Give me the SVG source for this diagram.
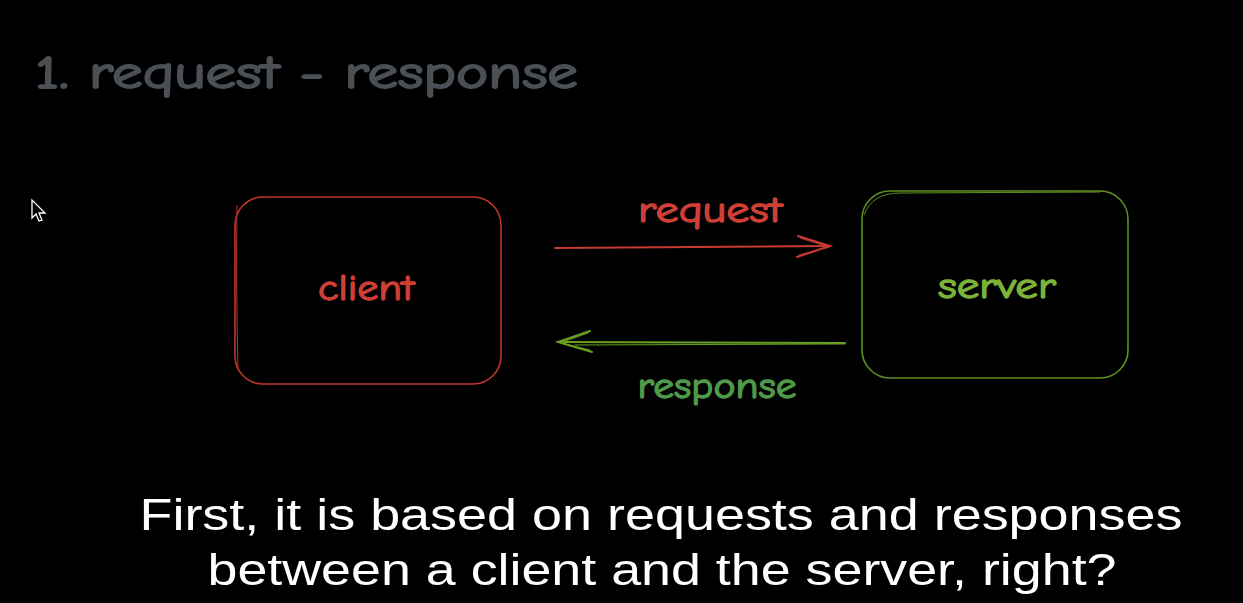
<svg xmlns="http://www.w3.org/2000/svg" width="1243" height="603" viewBox="0 0 1243 603">
<style>
.hand{font-family:"Comic Neue","Liberation Sans","DejaVu Sans",sans-serif;stroke-width:1.3;stroke-linejoin:round;}
.title{fill:#4b5056;stroke:#4b5056;font-size:46px;stroke-width:1.8;}
.red{fill:#cf3f36;stroke:#cf3f36;}
.grn{fill:#7bb33a;stroke:#7bb33a;}
.grn2{fill:#4f9a48;stroke:#4f9a48;}
.lbl{font-size:36px;}
.sub{font-family:"Liberation Sans",Arial,sans-serif;font-size:45px;fill:#ffffff;text-anchor:middle;}
.box{fill:none;stroke-width:1.6;}
</style>
<rect width="1243" height="603" fill="#000000"/>
<text class="hand title" x="35" y="88" textLength="543" lengthAdjust="spacingAndGlyphs">1. request - response</text>
<g id="cursor">
<polygon points="32,200 32,218 36,214 39,221 42,220 39,213 45,213" fill="#000" stroke="#ffffff" stroke-width="1.3"/>
</g>
<g id="client">
<rect class="box" x="235" y="197" width="266" height="187" rx="28" stroke="#c0352c"/>
<path d="M237,205 Q236,290 238,370" fill="none" stroke="#c0352c" stroke-width="1"/>
<text class="hand lbl red" x="366" y="300" text-anchor="middle" textLength="96" lengthAdjust="spacingAndGlyphs">client</text>
</g>
<g id="server">
<rect class="box" x="862" y="191" width="266" height="187" rx="28" stroke="#5e8f22"/>
<path d="M864,215 Q872,193 900,193 L1100,192" fill="none" stroke="#5e8f22" stroke-width="1"/>
<text class="hand lbl grn" x="997" y="298" text-anchor="middle" textLength="118" lengthAdjust="spacingAndGlyphs">server</text>
</g>
<g id="connectors" fill="none" stroke-linecap="round">
<g id="req" stroke="#c63a31" stroke-width="2">
<path d="M555,248 L830,246"/>
<path d="M798,236 L830,246 L797,257"/>
<path d="M800,238 L829,247 L799,255" stroke-width="1"/>
</g>
<g id="resp" stroke="#6a9e22" stroke-width="2">
<path d="M845,343 L558,342"/>
<path d="M590,331 L558,342 L592,352"/>
<path d="M588,333 L560,343 L590,350" stroke-width="1"/>
<path d="M575,345 L845,344" stroke-width="1"/>
</g>
</g>
<text class="hand lbl red" x="710" y="222" text-anchor="middle" textLength="144" lengthAdjust="spacingAndGlyphs">request</text>
<text class="hand lbl grn2" x="717" y="398" text-anchor="middle" textLength="159" lengthAdjust="spacingAndGlyphs">response</text>
<text class="sub" x="661" y="530" textLength="1043" lengthAdjust="spacingAndGlyphs">First, it is based on requests and responses</text>
<text class="sub" x="662" y="585" textLength="909" lengthAdjust="spacingAndGlyphs">between a client and the server, right?</text>
</svg>
